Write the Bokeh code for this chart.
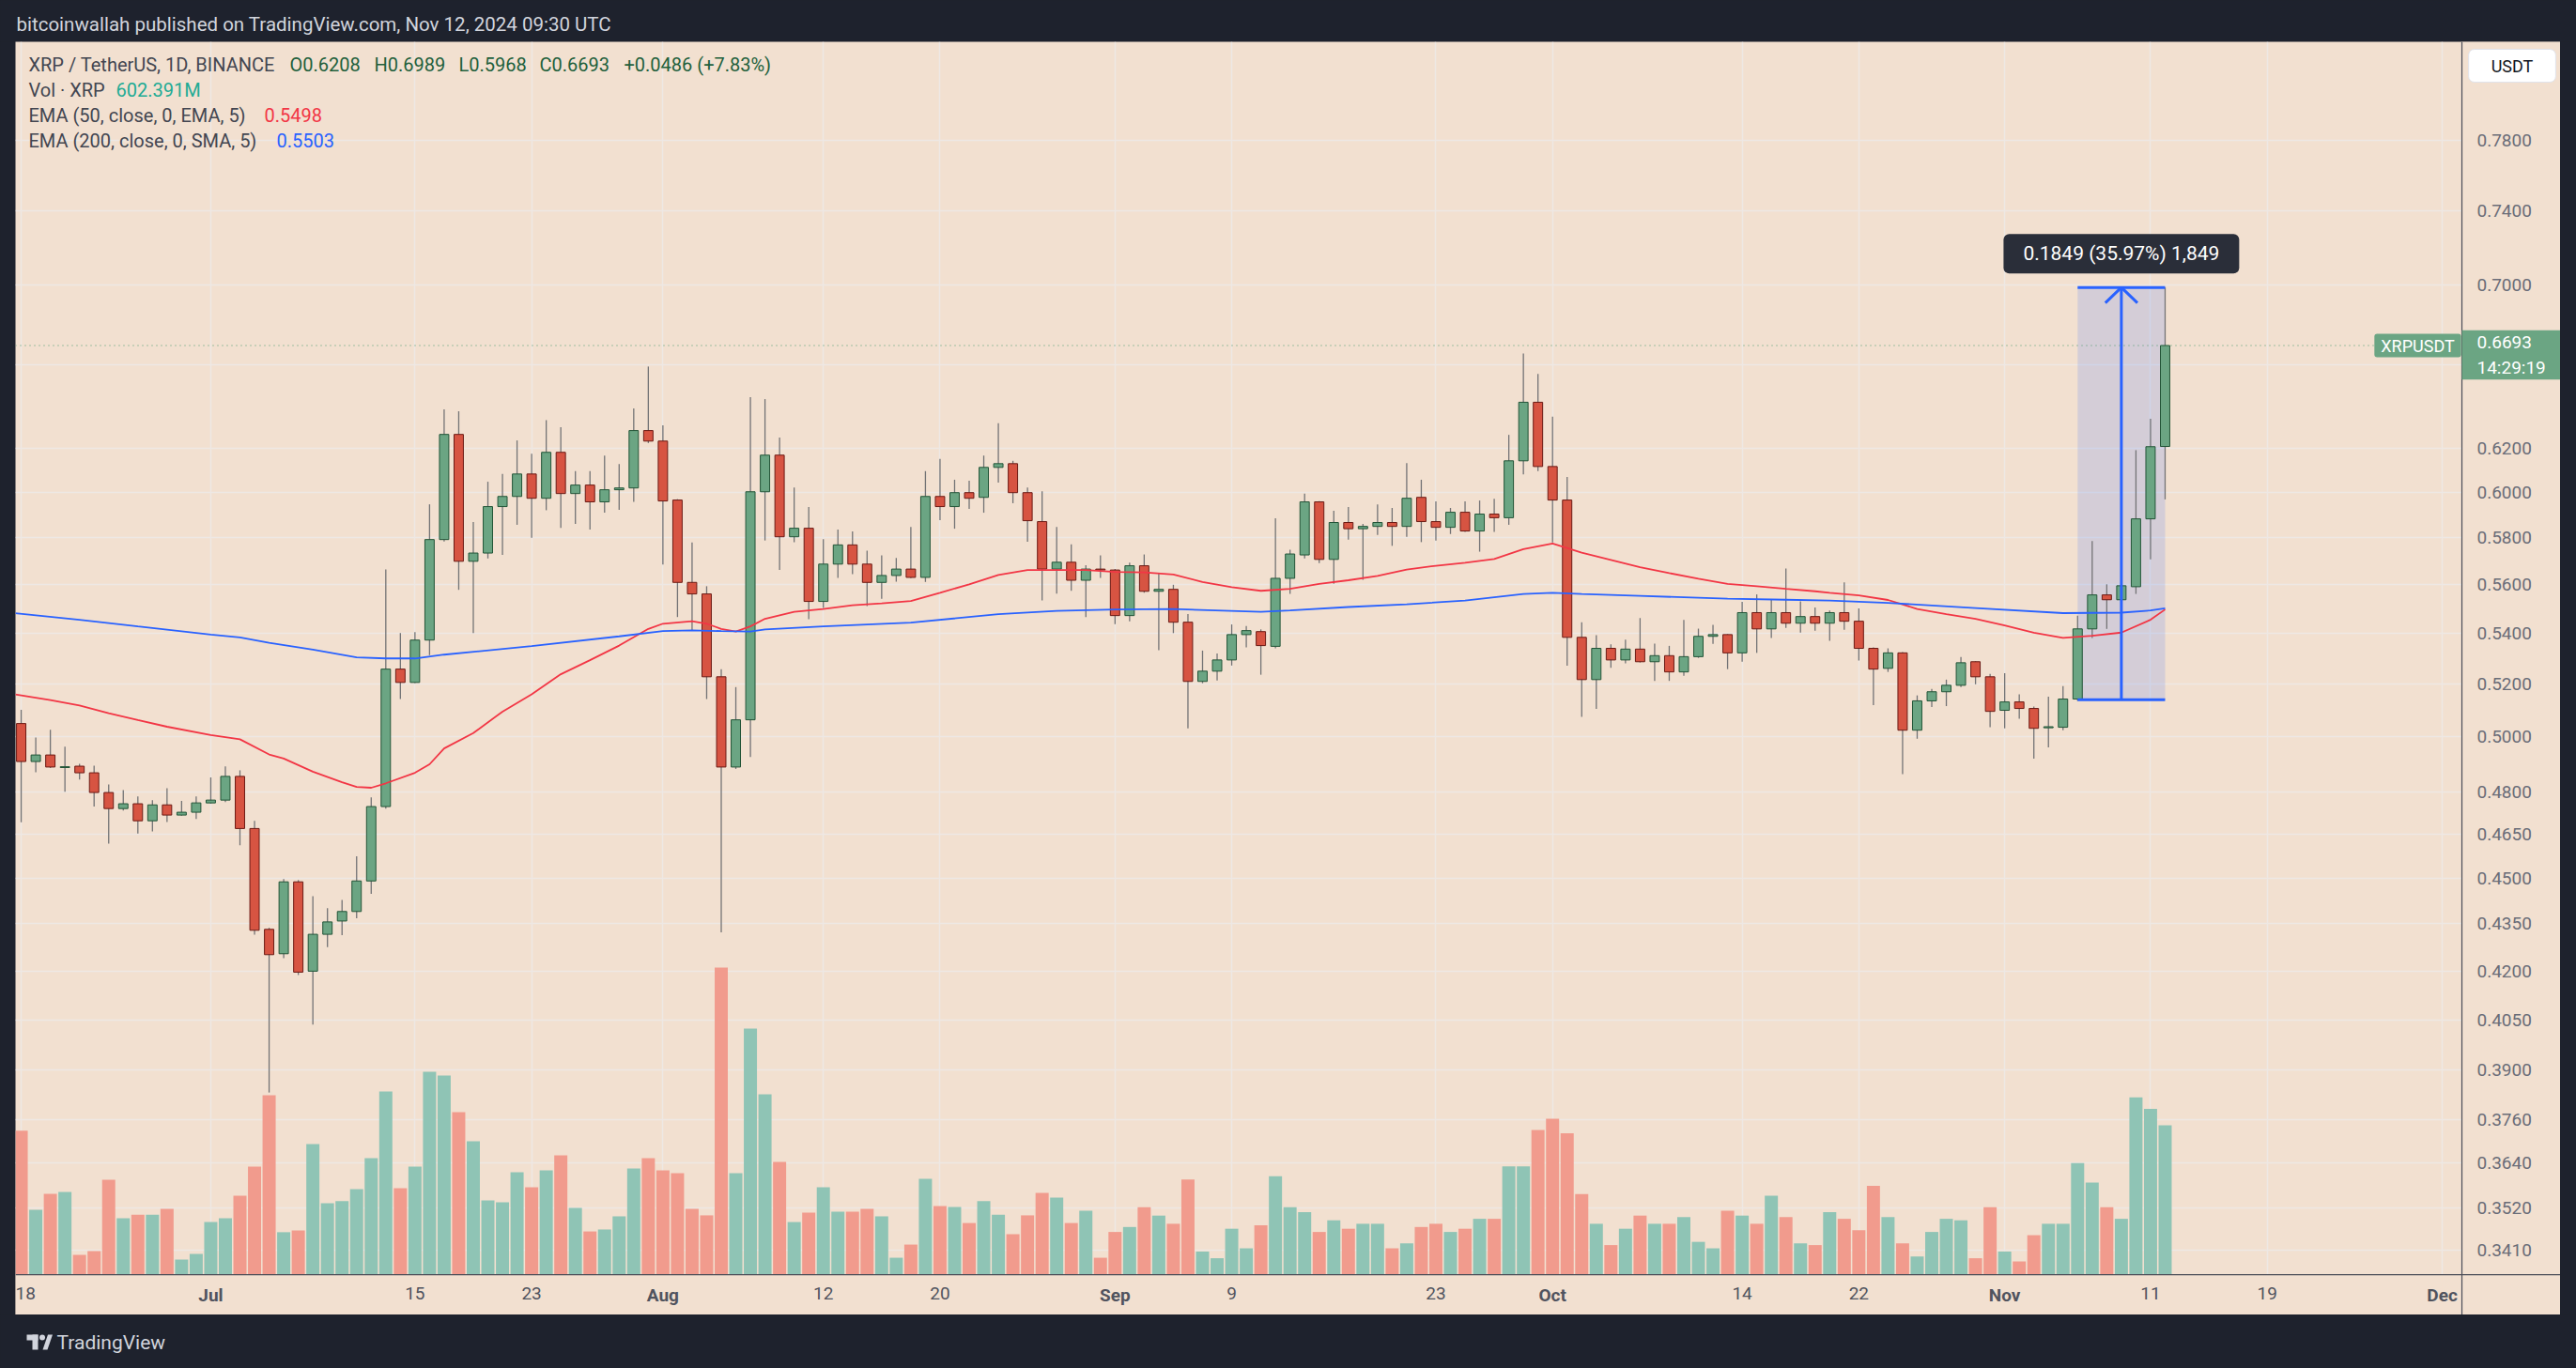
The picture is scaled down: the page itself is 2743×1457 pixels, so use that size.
import numpy as np
import pandas as pd
from bokeh.plotting import figure
from bokeh.models import (Range1d, LinearScale, FixedTicker, Label, Span,
                          NumeralTickFormatter, ColumnDataSource)
from bokeh.layouts import column, row
from bokeh.embed import file_html
from bokeh.resources import INLINE
from bokeh.core.properties import value

# ---------------- data ----------------
START_DATE = "2024-06-18"

OPEN = [0.5050, 0.4909, 0.4933, 0.4887, 0.4892, 0.4868, 0.4797, 0.4740, 0.4757, 0.4697,
        0.4753, 0.4717, 0.4727, 0.4760, 0.4770, 0.4855, 0.4670, 0.4332, 0.4254, 0.4488,
        0.4199, 0.4316, 0.4359, 0.4390, 0.4491, 0.4747, 0.5259, 0.5207, 0.5374, 0.5792,
        0.6264, 0.5699, 0.5734, 0.5936, 0.5981, 0.6082, 0.5973, 0.6181, 0.5994, 0.6032,
        0.5957, 0.6011, 0.6019, 0.6282, 0.6233, 0.5965, 0.5610, 0.5562, 0.5229, 0.4889,
        0.5064, 0.6002, 0.6168, 0.5804, 0.5841, 0.5531, 0.5687, 0.5769, 0.5687, 0.5610,
        0.5639, 0.5666, 0.5631, 0.5981, 0.5936, 0.5998, 0.5977, 0.6112, 0.6129, 0.5998,
        0.5870, 0.5666, 0.5695, 0.5619, 0.5666, 0.5662, 0.5473, 0.5680, 0.5573, 0.5581,
        0.5446, 0.5211, 0.5251, 0.5295, 0.5396, 0.5408, 0.5349, 0.5627, 0.5726, 0.5957,
        0.5707, 0.5866, 0.5839, 0.5849, 0.5866, 0.5849, 0.5977, 0.5870, 0.5845, 0.5911,
        0.5829, 0.5903, 0.5887, 0.6142, 0.6416, 0.6116, 0.5965, 0.5385, 0.5218, 0.5341,
        0.5295, 0.5338, 0.5288, 0.5312, 0.5248, 0.5308, 0.5389, 0.5396, 0.5323, 0.5485,
        0.5419, 0.5485, 0.5442, 0.5469, 0.5442, 0.5485, 0.5450, 0.5341, 0.5262, 0.5323,
        0.5025, 0.5136, 0.5171, 0.5196, 0.5288, 0.5229, 0.5100, 0.5132, 0.5107, 0.5034,
        0.5036, 0.5143, 0.5419, 0.5558, 0.5538, 0.5592, 0.5882, 0.6208]
HIGH = [0.5102, 0.4998, 0.5027, 0.4964, 0.4901, 0.4894, 0.4826, 0.4806, 0.4783, 0.4770,
        0.4812, 0.4767, 0.4783, 0.4851, 0.4891, 0.4877, 0.4697, 0.4337, 0.4497, 0.4494,
        0.4440, 0.4401, 0.4428, 0.4574, 0.4780, 0.5664, 0.5402, 0.5406, 0.5946, 0.6382,
        0.6373, 0.5868, 0.6047, 0.6082, 0.6236, 0.6174, 0.6331, 0.6298, 0.6095, 0.6095,
        0.6166, 0.6127, 0.6387, 0.6589, 0.6307, 0.5969, 0.5779, 0.5594, 0.5259, 0.5189,
        0.6440, 0.6431, 0.6249, 0.6021, 0.5934, 0.5794, 0.5835, 0.5827, 0.5744, 0.5724,
        0.5713, 0.5847, 0.6095, 0.6151, 0.6056, 0.6052, 0.6166, 0.6316, 0.6142, 0.6021,
        0.6004, 0.5847, 0.5771, 0.5682, 0.5724, 0.5666, 0.5693, 0.5728, 0.5650, 0.5600,
        0.5479, 0.5332, 0.5321, 0.5437, 0.5431, 0.5417, 0.5885, 0.5748, 0.5994, 0.5960,
        0.5918, 0.5934, 0.5860, 0.5946, 0.5930, 0.6131, 0.6056, 0.5959, 0.5930, 0.5959,
        0.5963, 0.5971, 0.6262, 0.6653, 0.6553, 0.6347, 0.6069, 0.5446, 0.5394, 0.5357,
        0.5376, 0.5463, 0.5360, 0.5351, 0.5455, 0.5420, 0.5435, 0.5398, 0.5529, 0.5560,
        0.5538, 0.5668, 0.5531, 0.5506, 0.5494, 0.5610, 0.5502, 0.5345, 0.5341, 0.5326,
        0.5157, 0.5182, 0.5218, 0.5307, 0.5290, 0.5240, 0.5243, 0.5161, 0.5114, 0.5152,
        0.5193, 0.5473, 0.5786, 0.5602, 0.5621, 0.6191, 0.6338, 0.6989]
LOW = [0.4692, 0.4870, 0.4885, 0.4800, 0.4844, 0.4747, 0.4618, 0.4733, 0.4653, 0.4660,
       0.4693, 0.4715, 0.4703, 0.4757, 0.4763, 0.4612, 0.4315, 0.3836, 0.4240, 0.4187,
       0.4035, 0.4275, 0.4313, 0.4368, 0.4448, 0.4740, 0.5143, 0.5205, 0.5314, 0.5784,
       0.5579, 0.5402, 0.5711, 0.5726, 0.5856, 0.5800, 0.5920, 0.5843, 0.5860, 0.5835,
       0.5909, 0.5922, 0.5957, 0.6224, 0.5685, 0.5467, 0.5413, 0.5143, 0.4322, 0.4882,
       0.4926, 0.5788, 0.5662, 0.5781, 0.5458, 0.5504, 0.5629, 0.5645, 0.5512, 0.5542,
       0.5613, 0.5628, 0.5612, 0.5876, 0.5839, 0.5926, 0.5909, 0.6043, 0.5951, 0.5783,
       0.5535, 0.5563, 0.5575, 0.5467, 0.5629, 0.5438, 0.5450, 0.5567, 0.5334, 0.5402,
       0.5032, 0.5204, 0.5215, 0.5273, 0.5345, 0.5237, 0.5341, 0.5562, 0.5711, 0.5691,
       0.5604, 0.5792, 0.5621, 0.5812, 0.5765, 0.5804, 0.5781, 0.5788, 0.5816, 0.5825,
       0.5740, 0.5825, 0.5856, 0.6080, 0.6095, 0.5779, 0.5272, 0.5075, 0.5105, 0.5264,
       0.5282, 0.5285, 0.5213, 0.5213, 0.5233, 0.5303, 0.5359, 0.5259, 0.5288, 0.5323,
       0.5382, 0.5423, 0.5404, 0.5412, 0.5371, 0.5415, 0.5293, 0.5120, 0.5248, 0.4863,
       0.4993, 0.5113, 0.5116, 0.5189, 0.5200, 0.5036, 0.5032, 0.5068, 0.4920, 0.4961,
       0.5025, 0.5136, 0.5382, 0.5419, 0.5442, 0.5562, 0.5707, 0.5968]
CLOSE = [0.4909, 0.4933, 0.4889, 0.4890, 0.4868, 0.4797, 0.4740, 0.4757, 0.4697, 0.4753,
         0.4717, 0.4727, 0.4760, 0.4770, 0.4855, 0.4670, 0.4329, 0.4251, 0.4488, 0.4196,
         0.4316, 0.4356, 0.4390, 0.4491, 0.4747, 0.5259, 0.5207, 0.5374, 0.5792, 0.6264,
         0.5699, 0.5734, 0.5936, 0.5981, 0.6082, 0.5973, 0.6181, 0.5994, 0.6032, 0.5957,
         0.6011, 0.6019, 0.6282, 0.6233, 0.5961, 0.5610, 0.5562, 0.5229, 0.4889, 0.5064,
         0.6002, 0.6168, 0.5804, 0.5841, 0.5531, 0.5687, 0.5769, 0.5687, 0.5610, 0.5639,
         0.5666, 0.5631, 0.5981, 0.5936, 0.5998, 0.5973, 0.6112, 0.6129, 0.5998, 0.5874,
         0.5666, 0.5695, 0.5619, 0.5666, 0.5662, 0.5473, 0.5680, 0.5573, 0.5581, 0.5446,
         0.5211, 0.5251, 0.5295, 0.5396, 0.5412, 0.5352, 0.5627, 0.5730, 0.5957, 0.5707,
         0.5866, 0.5839, 0.5849, 0.5866, 0.5849, 0.5973, 0.5870, 0.5845, 0.5911, 0.5829,
         0.5903, 0.5887, 0.6142, 0.6416, 0.6116, 0.5965, 0.5385, 0.5218, 0.5341, 0.5295,
         0.5338, 0.5288, 0.5312, 0.5248, 0.5308, 0.5389, 0.5396, 0.5323, 0.5485, 0.5419,
         0.5485, 0.5442, 0.5469, 0.5442, 0.5485, 0.5450, 0.5341, 0.5259, 0.5323, 0.5025,
         0.5136, 0.5171, 0.5196, 0.5284, 0.5229, 0.5096, 0.5132, 0.5107, 0.5032, 0.5038,
         0.5143, 0.5419, 0.5558, 0.5538, 0.5596, 0.5882, 0.6207, 0.6693]
VOLUME_M = [581, 261, 326, 333, 80, 95, 383, 227, 242, 242, 265, 61, 83, 212,
            227, 318, 436, 724, 171, 178, 527, 288, 296, 345, 470, 739,
            349, 436, 818, 803, 655, 538, 299, 292, 413, 352, 421, 481, 269, 174, 182, 235, 428, 470,
            421, 409, 265, 239,
            1239,
            409, 993, 727, 455, 212, 250, 352, 254, 254, 265, 235, 68, 121, 386, 277, 273, 208, 296,
            242, 163, 239, 330, 311, 208, 258, 68,
            172, 192, 272, 238, 205, 384, 93, 66, 185, 106, 199, 397, 272, 252, 172, 219, 185, 205,
            205, 106, 126, 192, 205, 172, 185, 225, 225, 437, 437, 583,
            629, 570, 325, 205, 119, 185, 238, 205, 205, 232, 132, 106, 258, 238, 205, 318, 232, 126,
            119, 252, 225, 179, 358, 232, 126, 73, 172, 225, 219, 66, 272, 93, 53, 159, 205, 205,
            450, 371, 272, 225, 715, 669, 602.391]

# moving-average lines, read at sample days (day 0 = 18 Jun 2024)
EMA50_DAY = [-0.4, 2, 4, 6, 8, 10, 13, 15, 17, 18, 20, 22, 23, 24, 25, 27, 28, 29, 31, 33, 35, 37, 39,
             41, 43, 44, 46, 47, 48, 49, 50, 51, 53, 55, 57, 59, 61, 63, 65, 67, 69, 71, 73, 75, 77,
             79, 81, 83, 85, 87, 89, 91, 93, 95, 97, 99, 101, 103, 105, 107, 109, 111, 113, 115, 117,
             119, 121, 123, 124, 126, 128, 130, 132, 134, 136, 138, 140, 142, 144, 146, 147]
EMA50_VAL = [0.5161, 0.5139, 0.5118, 0.5089, 0.5063, 0.5038, 0.5007, 0.4991, 0.4935, 0.4920, 0.4872,
             0.4834, 0.4817, 0.4814, 0.4830, 0.4868, 0.4899, 0.4957, 0.5014, 0.5095, 0.5161, 0.5239,
             0.5294, 0.5352, 0.5419, 0.5440, 0.5450, 0.5440, 0.5419, 0.5408, 0.5429, 0.5460, 0.5488,
             0.5500, 0.5515, 0.5523, 0.5533, 0.5567, 0.5602, 0.5641, 0.5662, 0.5662, 0.5662, 0.5654,
             0.5652, 0.5643, 0.5612, 0.5590, 0.5575, 0.5583, 0.5604, 0.5619, 0.5637, 0.5664, 0.5680,
             0.5693, 0.5709, 0.5751, 0.5775, 0.5736, 0.5705, 0.5674, 0.5649, 0.5625, 0.5604, 0.5594,
             0.5583, 0.5573, 0.5567, 0.5556, 0.5537, 0.5500, 0.5479, 0.5460, 0.5433, 0.5404, 0.5383,
             0.5391, 0.5404, 0.5456, 0.5498]
EMA200_DAY = [-0.4, 4, 8, 13, 15, 17, 20, 23, 25, 27, 29, 35, 41, 44, 46, 48, 50, 51, 55, 61, 67, 71,
              75, 79, 85, 87, 91, 95, 99, 103, 105, 107, 111, 117, 121, 124, 128, 134, 140, 144, 146, 147]
EMA200_VAL = [0.5483, 0.5456, 0.5429, 0.5396, 0.5385, 0.5363, 0.5336, 0.5305, 0.5301, 0.5301, 0.5316,
              0.5350, 0.5389, 0.5410, 0.5413, 0.5410, 0.5408, 0.5417, 0.5429, 0.5444, 0.5479, 0.5492,
              0.5498, 0.5500, 0.5488, 0.5494, 0.5508, 0.5519, 0.5535, 0.5562, 0.5567, 0.5562, 0.5554,
              0.5542, 0.5538, 0.5535, 0.5525, 0.5504, 0.5483, 0.5485, 0.5494, 0.5503]

PRICE_TICKS = [0.3410, 0.3520, 0.3640, 0.3760, 0.3900, 0.4050, 0.4200, 0.4350, 0.4500, 0.4650,
               0.4800, 0.5000, 0.5200, 0.5400, 0.5600, 0.5800, 0.6000, 0.6200, 0.7000, 0.7400, 0.7800]
COVERED_TICKS = [0.6600]  # gridline whose label is hidden behind the last-price tag
TIME_TICK_DATES = ["2024-06-18", "2024-07-01", "2024-07-15", "2024-07-23", "2024-08-01", "2024-08-12",
                   "2024-08-20", "2024-09-01", "2024-09-09", "2024-09-23", "2024-10-01", "2024-10-14",
                   "2024-10-22", "2024-11-01", "2024-11-11", "2024-11-19", "2024-12-01"]
TIME_TICK_LABELS = ["18", "Jul", "15", "23", "Aug", "12", "20", "Sep", "9", "23", "Oct", "14", "22",
                    "Nov", "11", "19", "Dec"]
MONTHS = {"Jul", "Aug", "Sep", "Oct", "Nov", "Dec"}

MEASURE_START, MEASURE_ARROW, MEASURE_END = "2024-11-06", "2024-11-09", "2024-11-12"
MEASURE_LOW, MEASURE_HIGH = 0.5140, 0.6989

TITLE = "bitcoinwallah published on TradingView.com, Nov 12, 2024 09:30 UTC"
SYMBOL = "XRP / TetherUS, 1D, BINANCE"
COUNTDOWN = "14:29:19"

n = len(OPEN)
assert len(HIGH) == n and len(LOW) == n and len(CLOSE) == n and len(VOLUME_M) == n, \
    (n, len(HIGH), len(LOW), len(CLOSE), len(VOLUME_M))

# ---------------- styling / view ----------------
DARK = "#1e222d"
BG = "#f2e0d0"
GRID = "#eee8e4"
AXIS_LINE = "#4a4d57"
GREEN, GREEN_EDGE = "#6ba583", "#225437"
RED, RED_EDGE = "#d75442", "#6b1a14"
WICK = "#737375"
VOL_GREEN, VOL_RED = "#8fc4b5", "#f19b8d"
C_EMA50, C_EMA200 = "#f23645", "#2962ff"
TAG = "#6ba583"
FONT = "Roboto"
# the frame covers the whole light panel; the price column and the time row sit inside it
X_START, X_DIV, X_END = -0.39, 167.35, 174.11
Y_START, Y_DIV, Y_END = 0.32501, 0.33492, 0.8393
VOL_RANGE = (-162.9, 4974.4)

start = pd.Timestamp(START_DATE)
def day_of(s):
    return (pd.Timestamp(s) - start).days

x = np.arange(n)
o, h, l, c = map(np.array, (OPEN, HIGH, LOW, CLOSE))
v = np.array(VOLUME_M, dtype=float)
up = c >= o
src = ColumnDataSource(dict(
    x=x, h=h, l=l, top=np.maximum(o, c), bot=np.minimum(o, c),
    fill=np.where(up, GREEN, RED), edge=np.where(up, GREEN_EDGE, RED_EDGE),
    vcol=np.where(up, VOL_GREEN, VOL_RED), vol=v))

W, H = 2743, 1457
MAIN_W, MAIN_H = 2710, 1356
p = figure(width=MAIN_W, height=MAIN_H, x_range=Range1d(X_START, X_END),
           y_range=Range1d(Y_START, Y_END), y_axis_type="log", y_axis_location="right",
           output_backend="svg", toolbar_location=None,
           background_fill_color=BG, border_fill_color=BG, outline_line_color=None,
           min_border_left=0, min_border_top=0, min_border_right=0, min_border_bottom=0)

p.extra_y_ranges = {"vol": Range1d(*VOL_RANGE)}
p.extra_y_scales = {"vol": LinearScale()}

# axes: labels pulled back inside the panel with a negative standoff
yax = p.yaxis[0]
yax.ticker = FixedTicker(ticks=PRICE_TICKS)
yax.formatter = NumeralTickFormatter(format="0.0000")
yax.axis_line_color = None
yax.major_tick_line_color = None
yax.minor_tick_line_color = None
yax.major_tick_out = 0
yax.major_tick_in = 0
yax.major_label_standoff = -89
yax.major_label_text_font = FONT
yax.major_label_text_font_size = "19px"
yax.major_label_text_color = "#6a6d78"

tick_pos = [day_of(t) for t in TIME_TICK_DATES]
xax = p.xaxis[0]
xax.ticker = FixedTicker(ticks=tick_pos)
xax.major_label_overrides = {pos: ("" if lab in MONTHS else lab) for pos, lab in zip(tick_pos, TIME_TICK_LABELS)}
xax.axis_line_color = None
xax.major_tick_line_color = None
xax.minor_tick_line_color = None
xax.major_tick_out = 0
xax.major_tick_in = 0
xax.major_label_standoff = -30
xax.major_label_text_font = FONT
xax.major_label_text_font_size = "19px"
xax.major_label_text_color = "#50535e"

p.ygrid[0].ticker = FixedTicker(ticks=sorted(PRICE_TICKS + COVERED_TICKS))
p.xgrid[0].ticker = FixedTicker(ticks=tick_pos)
for g in (p.xgrid[0], p.ygrid[0]):
    g.grid_line_color = GRID
    g.grid_line_width = 1.5

# cover the grid inside the price column and the time row
p.quad(left=[X_DIV, X_START], right=[X_END, X_END], bottom=[Y_START, Y_START], top=[Y_END, Y_DIV],
       fill_color=BG, line_color=None)

# bold month names on the time row
for pos, lab in zip(tick_pos, TIME_TICK_LABELS):
    if lab in MONTHS:
        p.add_layout(Label(x=pos, y=Y_DIV, y_offset=-21.5, text=lab,
                           text_align="center", text_baseline="middle", text_font=FONT,
                           text_font_size="19px", text_font_style="bold", text_color="#50535e"))

# volume
p.vbar(x="x", width=0.9, top="vol", bottom=0, source=src, y_range_name="vol",
       fill_color="vcol", line_color=None)

# measurement box fill (under candles)
m0, ma, m1 = day_of(MEASURE_START), day_of(MEASURE_ARROW), day_of(MEASURE_END)
p.quad(left=[m0], right=[m1], bottom=[MEASURE_LOW], top=[MEASURE_HIGH],
       fill_color="#2962ff", fill_alpha=0.15, line_color=None)

# candles
p.segment(x0="x", y0="l", x1="x", y1="h", source=src, line_color=WICK, line_width=1.3)
p.vbar(x="x", width=0.64, top="top", bottom="bot", source=src,
       fill_color="fill", line_color="edge", line_width=1)

# moving averages
p.line(EMA50_DAY, EMA50_VAL, line_color=C_EMA50, line_width=1.8)
p.line(EMA200_DAY, EMA200_VAL, line_color=C_EMA200, line_width=1.8)

# last price line
p.add_layout(Span(location=CLOSE[-1], dimension="width", line_color="#4e9a6f",
                  line_dash="1 4", line_width=1.2))

# panel dividers
p.add_layout(Span(location=X_DIV, dimension="height", line_color=AXIS_LINE, line_width=1.2))
p.add_layout(Span(location=Y_DIV, dimension="width", line_color=AXIS_LINE, line_width=1.2))

# measurement lines & arrow
p.segment(x0=[m0, m0, ma], y0=[MEASURE_LOW, MEASURE_HIGH, MEASURE_LOW],
          x1=[m1, m1, ma], y1=[MEASURE_LOW, MEASURE_HIGH, MEASURE_HIGH],
          line_color="#2962ff", line_width=3)
p.line([ma - 1.1, ma, ma + 1.1], [MEASURE_HIGH / 1.0116, MEASURE_HIGH, MEASURE_HIGH / 1.0116],
       line_color="#2962ff", line_width=3)
diff = MEASURE_HIGH - MEASURE_LOW
mtext = f"{diff:.4f} ({diff / MEASURE_LOW * 100:.2f}%) {round(diff * 10000):,}"
p.add_layout(Label(x=ma, y=MEASURE_HIGH, y_offset=36, text=mtext, text_align="center",
                   text_baseline="middle", text_font=FONT, text_font_size="21px",
                   text_color="white", background_fill_color="#2a2e39",
                   border_radius=6, padding=dict(left=21, right=21, top=9, bottom=9)))

# legend / header texts (screen coords relative to the plot frame, origin bottom-left)
def hdr(sx, sy, text, color, size="20px"):
    p.add_layout(Label(x=sx, y=sy, x_units="screen", y_units="screen", text=text,
                       text_align="left", text_baseline="middle", text_font=FONT,
                       text_font_size=size, text_color=color))

chg = CLOSE[-1] - CLOSE[-2]
hdr(14, 1332, SYMBOL, "#434651")
hdr(292, 1332, f"O{OPEN[-1]:.4f}", "#22603c")
hdr(382, 1332, f"H{HIGH[-1]:.4f}", "#22603c")
hdr(472, 1332, f"L{LOW[-1]:.4f}", "#22603c")
hdr(558, 1332, f"C{CLOSE[-1]:.4f}", "#22603c")
hdr(648, 1332, f"{chg:+.4f} ({chg / CLOSE[-2] * 100:+.2f}%)", "#22603c")
hdr(14, 1305, "Vol · XRP", "#434651")
hdr(107, 1305, f"{VOLUME_M[-1]:.3f}M", "#22ab94")
hdr(14, 1278, "EMA (50, close, 0, EMA, 5)", "#434651")
hdr(265, 1278, f"{EMA50_VAL[-1]:.4f}", C_EMA50)
hdr(14, 1251, "EMA (200, close, 0, SMA, 5)", "#434651")
hdr(278, 1251, f"{EMA200_VAL[-1]:.4f}", C_EMA200)

# price tags
p.add_layout(Label(x=X_DIV, y=CLOSE[-1], x_offset=-47, text="XRPUSDT",
                   text_align="center", text_baseline="middle", text_font=FONT,
                   text_font_size="18px", text_color="white", background_fill_color=TAG,
                   border_radius=3, padding=dict(left=7, right=7, top=2, bottom=2)))
p.add_layout(Label(x=X_DIV, y=CLOSE[-1], x_offset=0, y_offset=-10,
                   text=f"{CLOSE[-1]:.4f}\n{COUNTDOWN}",
                   text_align="left", text_baseline="middle", text_font=FONT,
                   text_font_size="19px", text_color="white", background_fill_color=TAG,
                   padding=dict(left=16, right=18, top=1, bottom=1)))
# currency button
p.add_layout(Label(x=X_DIV, y=Y_END, x_offset=53.5, y_offset=-25.5, text="USDT",
                   text_align="center", text_baseline="middle", text_font=FONT,
                   text_font_size="18px", text_color="#131722", background_fill_color="white",
                   border_line_color="#e0e3eb", border_radius=6,
                   padding=dict(left=24, right=24, top=7, bottom=7)))

# ---------------- frame strips ----------------
def strip(w, hgt):
    f = figure(width=w, height=hgt, x_range=Range1d(0, w), y_range=Range1d(0, hgt),
               output_backend="svg", toolbar_location=None, x_axis_location=None,
               y_axis_location=None, background_fill_color=DARK, border_fill_color=DARK,
               outline_line_color=None, min_border=0)
    f.grid.visible = False
    return f

top = strip(W, 44)
top.text(x=[17], y=[19], text=[TITLE], text_font=value(FONT), text_font_size="20.5px",
         text_color="#d1d4dc", text_baseline="middle")
left = strip(16, MAIN_H)
right = strip(W - 16 - MAIN_W, MAIN_H)
bottom = strip(W, H - 44 - MAIN_H)
LOGO = "#d1d4dc"
bottom.quad(left=[28, 34], right=[40, 40], bottom=[30, 20], top=[36, 36], fill_color=LOGO, line_color=None)
bottom.scatter(x=[44.5], y=[33], size=6, fill_color=LOGO, line_color=None)
bottom.patch(x=[45, 50, 55.5, 50.5], y=[20, 20, 36, 36], fill_color=LOGO, line_color=None)
bottom.text(x=[60], y=[28], text=["TradingView"], text_font=value(FONT), text_font_size="21px",
            text_color=LOGO, text_baseline="middle")

layout = column(top, row(left, p, right), bottom)
layout.styles = {"background-color": DARK}
open("out.html", "w").write(file_html(layout, INLINE))
